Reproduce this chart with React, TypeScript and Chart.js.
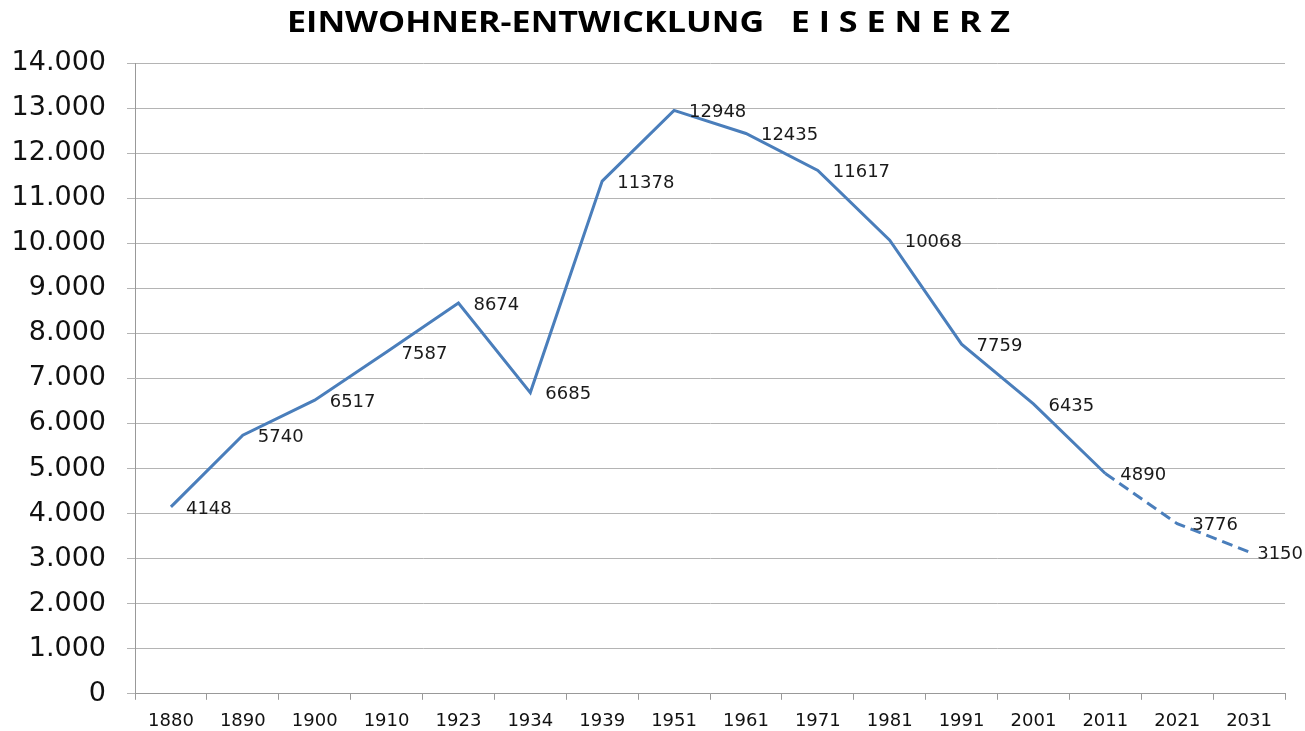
import React, { useEffect, useRef } from "react";
import { Chart, registerables } from "chart.js";

Chart.register(...registerables);

const TITLE = "EINWOHNER-ENTWICKLUNG   E I S E N E R Z";
const YEARS = ["1880", "1890", "1900", "1910", "1923", "1934", "1939", "1951", "1961", "1971", "1981", "1991", "2001", "2011", "2021", "2031"];
const POPULATION = [4148, 5740, 6517, 7587, 8674, 6685, 11378, 12948, 12435, 11617, 10068, 7759, 6435, 4890, 3776, 3150];
const FORECAST_START_INDEX = 13;
const Y_MIN = 0;
const Y_MAX = 14000;
const Y_STEP = 1000;

const LINE_COLOR = "#4A7EBB";
const GRID_COLOR = "#B4B4B4";
const FONT = "'DejaVu Sans', Verdana, sans-serif";

const fmt = (v: number) => String(v).replace(/\B(?=(\d{3})+(?!\d))/g, ".");

const titlePlugin = {
  id: "stretchedTitle",
  afterDraw(chart: any) {
    const ctx = chart.ctx;
    ctx.save();
    ctx.font = "bold 28px 'Open Sans', sans-serif";
    const w = ctx.measureText(TITLE).width;
    const target = 723;
    ctx.translate(648.5, 32);
    ctx.scale(target / w, 1);
    ctx.textAlign = "center";
    ctx.textBaseline = "alphabetic";
    ctx.fillStyle = "#000";
    ctx.fillText(TITLE, 0, 0);
    ctx.restore();
  },
};

const labelPlugin = {
  id: "pointLabels",
  afterDatasetsDraw(chart: any) {
    const ctx = chart.ctx;
    const meta = chart.getDatasetMeta(0);
    const data = chart.data.datasets[0].data as number[];
    ctx.save();
    ctx.font = `18px ${FONT}`;
    ctx.fillStyle = "#1a1a1a";
    ctx.textAlign = "left";
    ctx.textBaseline = "middle";
    meta.data.forEach((pt: any, i: number) => {
      const txt = String(data[i]);
      const tw = ctx.measureText(txt).width;
      let x = pt.x + 15;
      if (x + tw > chart.width - 2) x = chart.width - 2 - tw;
      ctx.fillText(txt, x, pt.y + 2);
    });
    ctx.restore();
  },
};

export default function App() {
  const ref = useRef<HTMLCanvasElement | null>(null);

  useEffect(() => {
    if (!ref.current) return;
    const chart = new Chart(ref.current, {
      type: "line",
      data: {
        labels: YEARS,
        datasets: [
          {
            data: POPULATION,
            borderColor: LINE_COLOR,
            borderWidth: 3,
            pointRadius: 0,
            tension: 0,
            fill: false,
            segment: {
              borderDash: (c: any) => (c.p0DataIndex >= FORECAST_START_INDEX ? [11, 6] : undefined),
            },
          },
        ],
      },
      plugins: [titlePlugin, labelPlugin],
      options: {
        animation: false,
        responsive: false,
        maintainAspectRatio: false,
        layout: { padding: { top: 63, right: 20, left: 0, bottom: 0 } },
        plugins: {
          legend: { display: false },
          title: { display: false },
          tooltip: { enabled: false },
        },
        scales: {
          x: {
            offset: true,
            grid: {
              offset: true,
              drawOnChartArea: false,
              drawTicks: true,
              tickLength: 6,
              color: "#999",
            },
            border: { display: true, color: "#999" },
            ticks: {
              color: "#111",
              font: { family: FONT, size: 18 },
              padding: 11,
              maxRotation: 0,
              autoSkip: false,
            },
            afterFit: (s: any) => {
              s.height = 37;
            },
          },
          y: {
            min: Y_MIN,
            max: Y_MAX,
            ticks: {
              stepSize: Y_STEP,
              color: "#111",
              font: { family: FONT, size: 27 },
              padding: 21,
              callback: (v: any) => fmt(Number(v)),
            },
            grid: {
              color: GRID_COLOR,
              tickLength: 8,
              lineWidth: 1,
            },
            border: { display: true, color: "#999" },
            afterFit: (s: any) => {
              s.width = 135;
            },
          },
        },
      },
    });
    return () => chart.destroy();
  }, []);

  return (
    <div style={{ position: "fixed", left: 0, top: 0, width: 1305, height: 731, background: "#fff" }}>
      <canvas ref={ref} width={1305} height={731} style={{ width: 1305, height: 731, display: "block" }} />
    </div>
  );
}
